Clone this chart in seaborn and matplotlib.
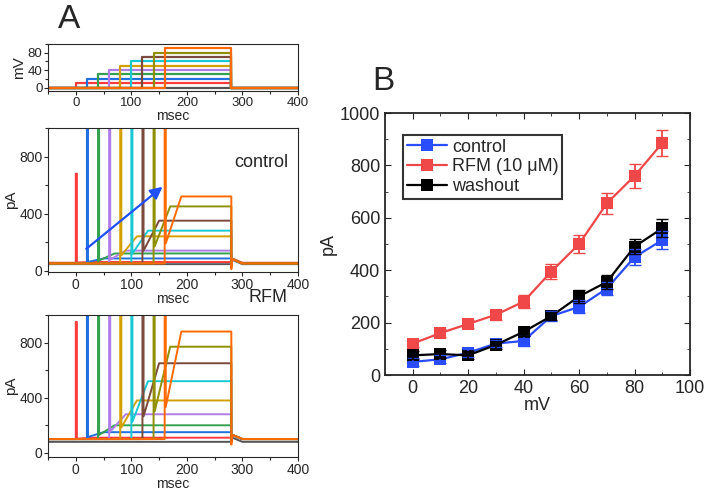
import numpy as np
import pandas as pd
import matplotlib
matplotlib.use("Agg")
import matplotlib.pyplot as plt
import seaborn as sns

sns.set_style("ticks")
plt.rcParams["font.family"] = "Liberation Sans"

# ---- data ----
step_mv = [0, 10, 20, 30, 40, 50, 60, 70, 80, 90]
step_onset = [0, 0, 20, 40, 60, 80, 100, 120, 140, 160]
trace_colors = ["#555555", "#ff3b3b", "#2070e0", "#35a050", "#b07ce8",
                "#d4a000", "#18c8d2", "#7a4a3c", "#8f8f00", "#ff6a00"]
ctrl_base = [45, 55, 50, 50, 50, 50, 50, 50, 50, 50]
ctrl_plateau = [45, 60, 85, 120, 140, 240, 280, 350, 450, 520]
ctrl_spike = [45, 680, 1000, 1000, 1000, 1000, 1000, 1000, 1000, 1000]
rfm_base = [80, 100, 100, 100, 100, 100, 100, 100, 100, 100]
rfm_plateau = [80, 110, 150, 200, 280, 380, 520, 650, 770, 880]
rfm_spike = [80, 950, 1000, 1000, 1000, 1000, 1000, 1000, 1000, 1000]

mv = [0, 10, 20, 30, 40, 50, 60, 70, 80, 90]
control = [50, 60, 85, 120, 130, 225, 260, 330, 450, 515]
control_err = [15, 15, 15, 15, 20, 20, 25, 25, 30, 35]
rfm = [120, 160, 195, 230, 280, 395, 500, 655, 760, 885]
rfm_err = [15, 15, 15, 20, 25, 30, 35, 40, 45, 50]
washout = [75, 80, 75, 115, 165, 225, 300, 355, 490, 560]
washout_err = [15, 15, 15, 15, 15, 15, 25, 25, 30, 35]

W, H = 713, 495
fig = plt.figure(figsize=(W / 100, H / 100), dpi=100)

def ax_px(l, t, r, b):
    return fig.add_axes([l / W, 1 - b / H, (r - l) / W, (b - t) / H])

def style_left(a, ls=10):
    a.tick_params(labelsize=ls, pad=1, length=3)
    a.yaxis.set_minor_locator(matplotlib.ticker.AutoMinorLocator(2))
    a.xaxis.set_minor_locator(matplotlib.ticker.AutoMinorLocator(2))
    a.tick_params(which="minor", length=2, width=0.8, bottom=True, left=True)

# voltage protocol
axv = ax_px(48, 44, 298, 91)
for v, t0, c in zip(step_mv, step_onset, trace_colors):
    x = [-50, t0, t0, 280, 280, 400]
    y = [0, 0, v, v, 0, 0]
    axv.plot(x, y, color=c, lw=1.6)
axv.set_xlim(-50, 400); axv.set_ylim(-8, 100)
axv.set_yticks([0, 40, 80]); axv.set_xticks([0, 100, 200, 300, 400])
axv.set_ylabel("mV", fontsize=11, labelpad=1)
axv.set_xlabel("msec", fontsize=10, labelpad=0)
style_left(axv, 9.5)

def traces(ax, base, plateau, spike, label, ylim, ly):
    for i in range(len(step_mv)):
        t0 = step_onset[i]
        x = [-50, t0, t0, t0 + 2, t0 + 2, t0 + 30, 280, 280, 282, 300, 400]
        y = [base[i], base[i], spike[i], spike[i], base[i] + (plateau[i] - base[i]) * 0.3,
             plateau[i], plateau[i], base[i] - 40 if i == 9 else base[i], base[i] + 30,
             base[i], base[i]]
        ax.plot(x, y, color=trace_colors[i], lw=1.4)
    ax.set_xlim(-50, 400); ax.set_ylim(*ylim)
    ax.set_yticks([0, 400, 800]); ax.set_xticks([0, 100, 200, 300, 400])
    ax.set_ylabel("pA", fontsize=11, labelpad=1)
    ax.set_xlabel("msec", fontsize=10, labelpad=0)
    ax.text(0.96, ly, label, transform=ax.transAxes,
            ha="right", va="center", fontsize=13, clip_on=False)
    style_left(ax)

axc = ax_px(48, 128, 298, 272)
traces(axc, ctrl_base, ctrl_plateau, ctrl_spike, "control", (-10, 1000), 0.76)
axc.annotate("", xy=(160, 600), xytext=(15, 140),
             arrowprops=dict(arrowstyle="-|>", color="#1f4fff", lw=1.6, mutation_scale=18))
axr = ax_px(48, 315, 298, 457)
traces(axr, rfm_base, rfm_plateau, rfm_spike, "RFM", (-30, 1000), 1.12)

fig.text(58 / W, 1 - 20 / H, "A", fontsize=24, va="center")
fig.text(372 / W, 1 - 82 / H, "B", fontsize=24, va="center")

# panel B
axb = ax_px(385, 113, 690, 375)
df = pd.DataFrame({
    "mV": mv * 3,
    "pA": control + rfm + washout,
    "group": ["control"] * 10 + ["RFM (10 μM)"] * 10 + ["washout"] * 10,
})
pal = {"control": "#2a4cff", "RFM (10 μM)": "#f04848", "washout": "#000000"}
sns.lineplot(data=df, x="mV", y="pA", hue="group", palette=pal, marker="s",
             markersize=8, markeredgewidth=0, lw=1.6, ax=axb)
for y, e, g in [(control, control_err, "control"), (rfm, rfm_err, "RFM (10 μM)"),
                (washout, washout_err, "washout")]:
    axb.errorbar(mv, y, yerr=e, fmt="none", ecolor=pal[g], capsize=4, lw=1.3)
axb.set_xlim(-10, 100); axb.set_ylim(0, 1000)
axb.set_xticks([0, 20, 40, 60, 80, 100]); axb.set_yticks(range(0, 1001, 200))
axb.set_xlabel("mV", fontsize=13, labelpad=0); axb.set_ylabel("pA", fontsize=13, labelpad=2)
axb.tick_params(labelsize=13, direction="in", top=True, right=True, length=4)
axb.xaxis.set_minor_locator(matplotlib.ticker.AutoMinorLocator(2))
axb.yaxis.set_minor_locator(matplotlib.ticker.AutoMinorLocator(2))
axb.tick_params(which="minor", direction="in", top=True, right=True, length=2.5)
for s in axb.spines.values():
    s.set_linewidth(1.3)
leg = axb.legend(loc="upper left", bbox_to_anchor=(0.03, 0.95), fontsize=13,
                 frameon=True, fancybox=False, edgecolor="black", handlelength=2.2,
                 borderpad=0.2, labelspacing=0.15, handletextpad=0.3)
leg.get_frame().set_linewidth(1.5)

fig.savefig("out.png", dpi=100)
